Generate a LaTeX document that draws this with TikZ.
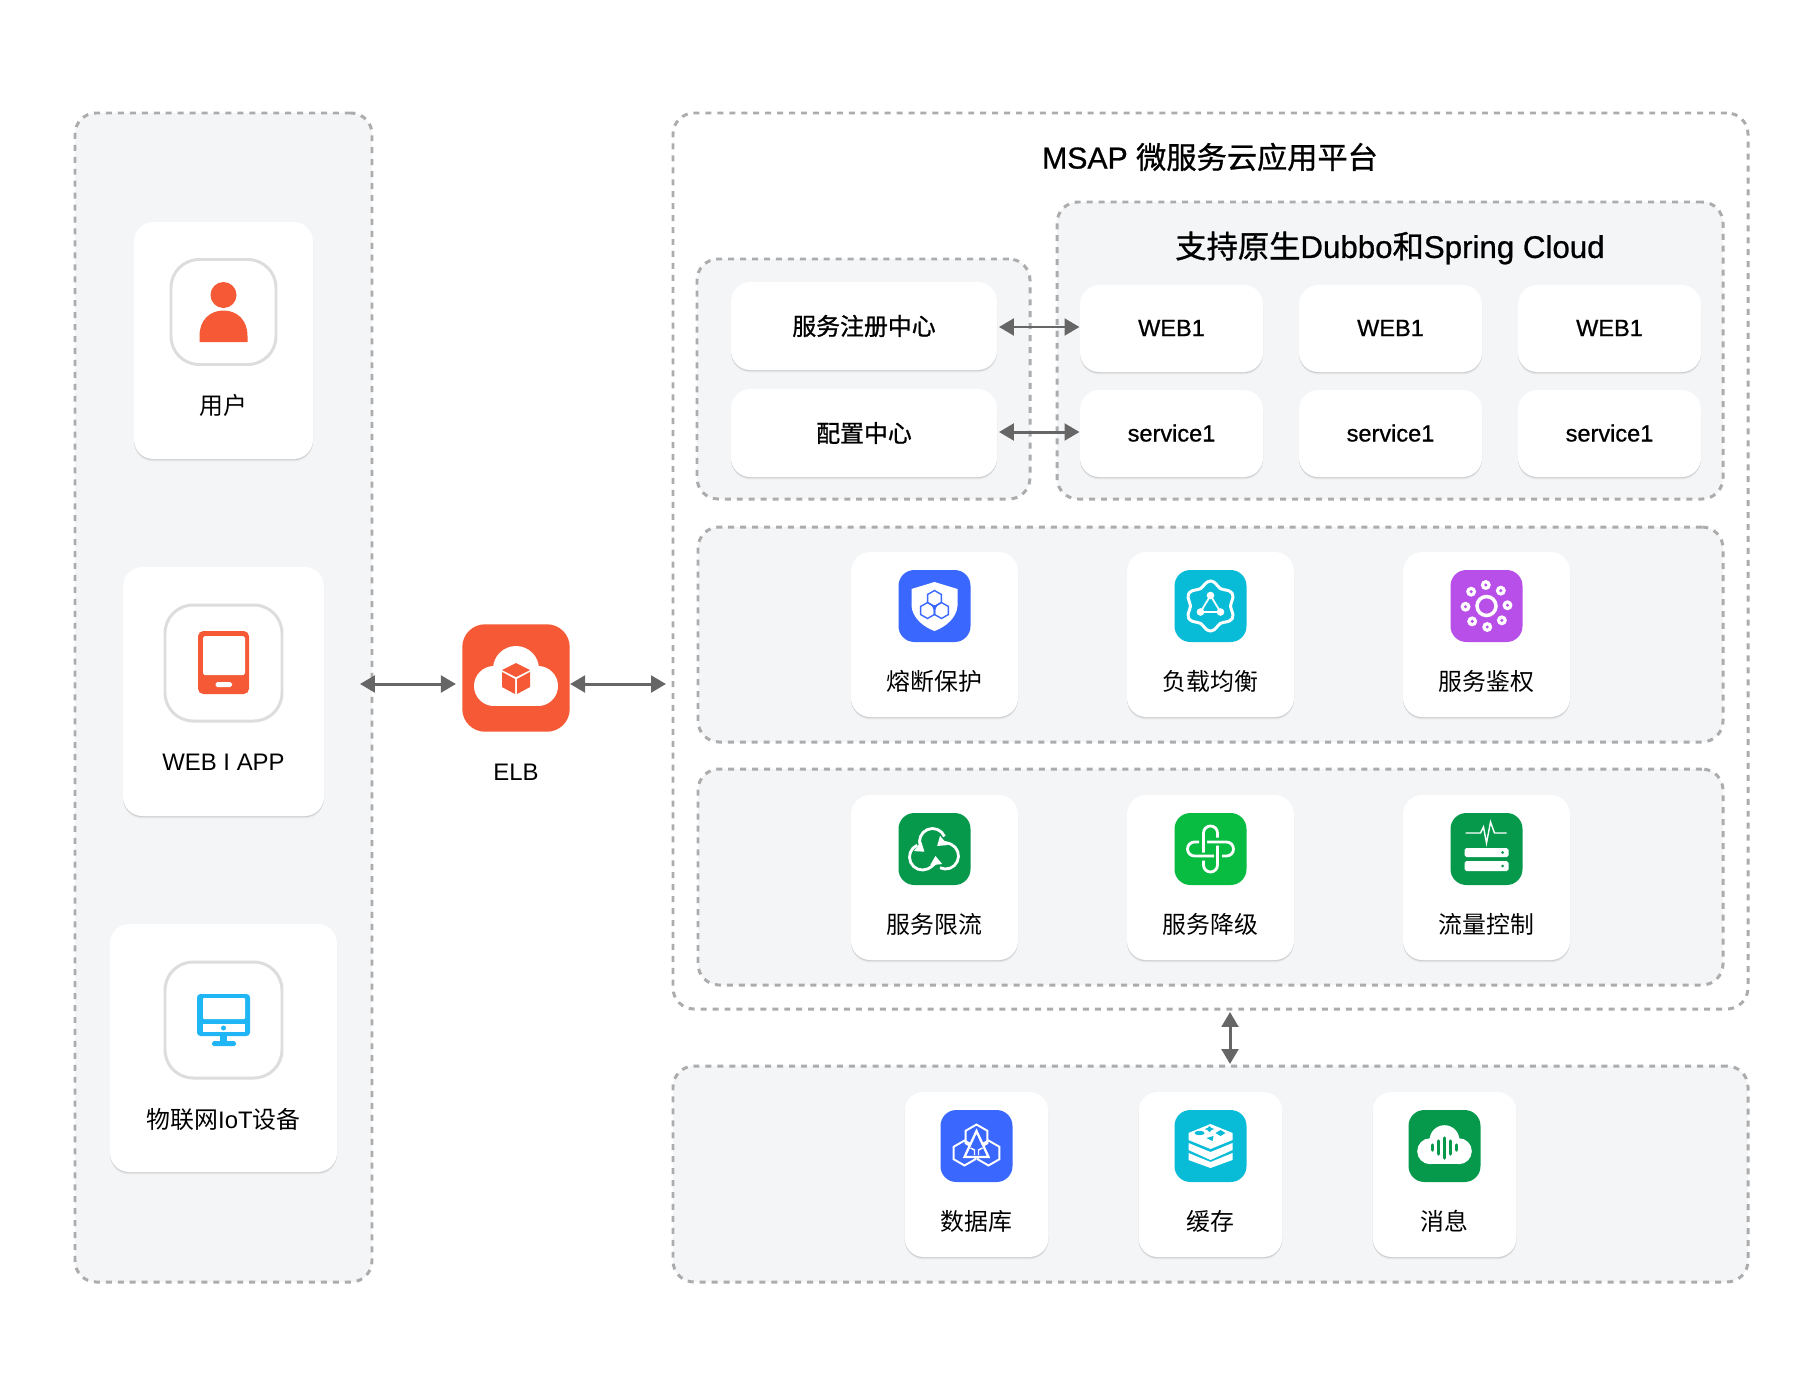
\documentclass[tikz,border=0pt]{standalone}
\usepackage{fontspec}
\setmainfont{Liberation Sans}
\newfontfamily\cjk{Noto Sans CJK SC}
\newfontfamily\cjkm[FakeBold=1]{Noto Sans CJK SC}
\newfontfamily\latm[FakeBold=.8]{Liberation Sans}
\usepackage{xcolor}
\usetikzlibrary{arrows.meta,shadows}
\definecolor{panelgrey}{RGB}{244,245,247}
\definecolor{dashgrey}{RGB}{172,172,172}
\definecolor{framegrey}{RGB}{221,221,221}
\definecolor{arrowgrey}{RGB}{102,102,102}
\definecolor{elborange}{RGB}{245,89,54}
\definecolor{skyblue}{RGB}{32,181,245}
\definecolor{iconblue}{RGB}{58,104,255}
\definecolor{iconcyan}{RGB}{8,188,215}
\definecolor{iconpurple}{RGB}{184,79,232}
\definecolor{icongreen}{RGB}{6,153,76}
\definecolor{iconlime}{RGB}{8,188,65}
\tikzset{
  panel/.style 2 args={draw=dashgrey, line width=1.7pt, dash pattern=on 3.4pt off 3.4pt,
    rounded corners=12pt, minimum width=#1*0.02cm, minimum height=#2*0.02cm, inner sep=0pt, outer sep=0pt},
  card/.style 2 args={fill=white, rounded corners=11pt, minimum width=#1*0.02cm, minimum height=#2*0.02cm,
    inner sep=0pt, outer sep=0pt,
    drop shadow={shadow xshift=0pt, shadow yshift=-0.7pt, opacity=.10, fill=black},
    drop shadow={shadow xshift=0pt, shadow yshift=-1.4pt, opacity=.05, fill=black}},
  frame/.style 2 args={draw=framegrey, fill=white, line width=1.7pt, rounded corners=16pt,
    minimum width=#1*0.02cm, minimum height=#2*0.02cm, inner sep=0pt},
  iconbox/.style={rounded corners=9pt, minimum size=1.44cm, inner sep=0pt},
  label/.style={font=\fontsize{13.6}{16}\selectfont, text=black, inner sep=0pt},
  title/.style={font=\fontsize{17.2}{20}\selectfont, text=black, inner sep=0pt},
  link/.style={{Triangle[length=8.5pt,width=9.5pt]}-{Triangle[length=8.5pt,width=9.5pt]}, draw=arrowgrey, line width=1.7pt},
}
% one hexagon cell, pointy on top
\newcommand{\hexcell}[3]{\draw[shift={(#1,#2)}] (30:#3) -- (90:#3) -- (150:#3) -- (210:#3) -- (270:#3) -- (330:#3) -- cycle;}
% white cloud of the ELB and message icons
\newcommand{\cloudglyph}{
  \fill[white] (-22,-8) circle (20);
  \fill[white] (22,-8) circle (20);
  \fill[white] (0,9) circle (23);
  \fill[white] (-22,-28) rectangle (22,-8);
}
% one arrow of the three round the flow limit icon
\newcommand{\looparc}[5]{\draw[white, line width=1.6pt, -{Triangle[length=5pt,width=6.5pt]}, shift={(#1,#2)}] (#3:#5) arc (#3:#4:#5);}
% text inside the small cards
\newcommand{\cardcjk}[1]{\raisebox{1pt}{\cjkm\fontsize{13.6}{16}\selectfont #1}}
\newcommand{\cardlat}[1]{\raisebox{.6pt}{\latm\fontsize{13.4}{16}\selectfont #1}}

\begin{document}
\begin{tikzpicture}[x=0.02cm, y=0.02cm]
\useasboundingbox (0,0) rectangle (1800,-1380);

% dashed panels
\node[panel={297}{1169}, fill=panelgrey] (clients) at (223.5,-697.5) {};
\node[panel={1075}{896}] (platform) at (1210.5,-561) {};
\node[panel={333}{240}, fill=panelgrey] (registry) at (863.5,-379) {};
\node[panel={666}{297}, fill=panelgrey] (native) at (1390,-350.5) {};
\node[panel={1025}{215}, fill=panelgrey] (guardrow) at (1210.5,-634.5) {};
\node[panel={1025}{216}, fill=panelgrey] (flowrow) at (1210.5,-877) {};
\node[panel={1075}{216}, fill=panelgrey] (storage) at (1210.5,-1174) {};

% titles
\node[title] (platformtitle) at (1210,-157) {\latm MSAP {\cjkm 微服务云应用平台}};
\node[title, font=\fontsize{17.8}{20}\selectfont] (nativetitle) at (1390,-248) {{\cjkm 支持原生}\latm Dubbo{\cjkm 和}Spring Cloud};

% client column
\node[card={179}{237}] (usercard) at (223.5,-340.5) {};
\node[frame={105}{105}] (userframe) at (223.5,-312) {};
\fill[elborange] (223.5,-295) circle (13);
\fill[elborange] (199.5,-342) -- (199.5,-336) .. controls (199.5,-320) and (210,-310.5) .. (223.5,-310.5) .. controls (237,-310.5) and (247.5,-320) .. (247.5,-336) -- (247.5,-342) -- cycle;
\node[label] (userlabel) at (223.5,-405.5) {\cjk 用户};

\node[card={201}{249}] (webcard) at (223.5,-691.5) {};
\node[frame={117}{116}] (webframe) at (223.5,-663) {};
\fill[elborange, rounded corners=3pt] (198,-631) rectangle (249,-694);
\fill[white, rounded corners=1pt] (203,-636) rectangle (245,-675);
\fill[white, rounded corners=1pt] (215.5,-682) rectangle (232,-687);
\node[label] (weblabel) at (223.5,-762.5) {WEB I APP};

\node[card={227}{248}] (iotcard) at (223.5,-1048) {};
\node[frame={117}{116}] (iotframe) at (223.5,-1020) {};
\fill[skyblue, rounded corners=2pt] (197,-994) rectangle (250,-1036);
\fill[white, rounded corners=.5pt] (203,-998) rectangle (245,-1019);
\fill[white] (203,-1024) rectangle (245,-1032);
\fill[skyblue] (223.5,-1028) circle (2.5);
\fill[skyblue] (220,-1036) rectangle (227,-1043);
\fill[skyblue, rounded corners=1pt] (212,-1041) rectangle (236,-1046);
\node[label] (iotlabel) at (223.5,-1119.5) {{\cjk 物联网}IoT{\cjk 设备}};

% ELB
\node[iconbox, fill=elborange, minimum size=2.15cm, rounded corners=13pt] (elb) at (516,-678) {};
\begin{scope}[shift={(516,-678)}]
\cloudglyph
\fill[elborange] (0,15) -- (14,8) -- (0,1) -- (-14,8) -- cycle;
\fill[elborange] (-14,6) -- (-1,-1) -- (-1,-16) -- (-14,-9) -- cycle;
\fill[elborange] (14,6) -- (1,-1) -- (1,-16) -- (14,-9) -- cycle;
\end{scope}
\node[label] (elblabel) at (516,-772) {ELB};

% registry cards
\node[card={266}{88}] (regcard) at (864,-326) {\cardcjk{服务注册中心}};
\node[card={266}{88}] (confcard) at (864,-433) {\cardcjk{配置中心}};

% web and service cards
\node[card={183}{87}] (webone) at (1171.5,-328.5) {\cardlat{WEB1}};
\node[card={183}{87}] (webtwo) at (1390.5,-328.5) {\cardlat{WEB1}};
\node[card={183}{87}] (webthree) at (1609.5,-328.5) {\cardlat{WEB1}};
\node[card={183}{87}] (svcone) at (1171.5,-433.5) {\cardlat{service1}};
\node[card={183}{87}] (svctwo) at (1390.5,-433.5) {\cardlat{service1}};
\node[card={183}{87}] (svcthree) at (1609.5,-433.5) {\cardlat{service1}};

% first row of capabilities
\node[card={167}{165}] (fusecard) at (934.5,-634.5) {};
\node[card={167}{165}] (balancecard) at (1210.5,-634.5) {};
\node[card={167}{165}] (authcard) at (1486.5,-634.5) {};
\node[iconbox, fill=iconblue] (fuseicon) at (934.5,-606) {};
\node[iconbox, fill=iconcyan] (balanceicon) at (1210.5,-606) {};
\node[iconbox, fill=iconpurple] (authicon) at (1486.5,-606) {};
\node[label] (fuselabel) at (934.5,-681.5) {\cjk 熔断保护};
\node[label] (balancelabel) at (1210.5,-681.5) {\cjk 负载均衡};
\node[label] (authlabel) at (1486.5,-681.5) {\cjk 服务鉴权};
% shield
\begin{scope}[shift={(934.5,-606)}]
\fill[white] (0,24) -- (-23,17) -- (-23,0) .. controls (-22,-12) and (-11,-21) .. (0,-25) .. controls (11,-21) and (22,-12) .. (23,0) -- (23,17) -- cycle;
\begin{scope}[draw=iconblue, line width=.8pt]
\hexcell{0}{7.5}{8}
\hexcell{-7}{-4.5}{8}
\hexcell{7}{-4.5}{8}
\end{scope}
\fill[iconblue] (-3,1) -- (3,1) -- (.7,-4) -- (.7,-9) -- (-.7,-9) -- (-.7,-4) -- cycle;
\end{scope}
% gear with triangle
\begin{scope}[shift={(1210.5,-606)}]
\draw[white, line width=1.7pt] plot[smooth cycle, domain=0:350, samples=36] (\x:{22.5+2.5*cos(6*(\x-90))});
\draw[white, line width=1pt] (0,10.5) -- (-10,-6) -- (10,-6) -- cycle;
\fill[white] (0,10.5) circle (3.8);
\fill[white] (-10,-6) circle (3.8);
\fill[white] (10,-6) circle (3.8);
\end{scope}
% ring of small rings
\begin{scope}[shift={(1486.5,-606)}]
\draw[white, line width=2pt] (0,0) circle (9.5);
\foreach \ang in {0,45,...,315} {
  \fill[white] (\ang+2:21) circle (5);
  \fill[iconpurple] (\ang+2:21) circle (1.7);
}
\end{scope}

% second row of capabilities
\node[card={167}{165}] (limitcard) at (934.5,-877.5) {};
\node[card={167}{165}] (degradecard) at (1210.5,-877.5) {};
\node[card={167}{165}] (trafficcard) at (1486.5,-877.5) {};
\node[iconbox, fill=icongreen] (limiticon) at (934.5,-849) {};
\node[iconbox, fill=iconlime] (degradeicon) at (1210.5,-849) {};
\node[iconbox, fill=icongreen] (trafficicon) at (1486.5,-849) {};
\node[label] (limitlabel) at (934.5,-924.5) {\cjk 服务限流};
\node[label] (degradelabel) at (1210.5,-924.5) {\cjk 服务降级};
\node[label] (trafficlabel) at (1486.5,-924.5) {\cjk 流量控制};
% three arrows
\begin{scope}[shift={(934.5,-849)}]
\looparc{-2}{7.5}{23}{232}{13}
\looparc{11}{-7}{245}{490}{13}
\looparc{-12}{-8}{114}{365}{13}
\end{scope}
% linked loops
\begin{scope}[shift={(1210.5,-849)}]
\foreach \ang in {0,90,180,270} {
  \draw[white, line width=1.6pt, rotate=\ang] (7,11.5) -- (7,16) arc (0:180:7) -- (-7,-3.5);
}
\end{scope}
% pulse over two server bars
\begin{scope}[shift={(1486.5,-849)}]
\draw[white, line width=.8pt] (-21,16) -- (-6,16) -- (-3,22) -- (0,6) -- (4,27) -- (8,16) -- (20,16);
\fill[white, rounded corners=1pt] (-22,1) rectangle (22,-8);
\fill[white, rounded corners=1pt] (-22,-12) rectangle (22,-22);
\fill[icongreen] (16,-3.5) circle (1.5);
\fill[icongreen] (16,-17) circle (1.5);
\end{scope}

% storage row
\node[card={144}{165}] (dbcard) at (976.5,-1174.5) {};
\node[card={144}{165}] (cachecard) at (1210.5,-1174.5) {};
\node[card={144}{165}] (mqcard) at (1444.5,-1174.5) {};
\node[iconbox, fill=iconblue] (dbicon) at (976.5,-1146) {};
\node[iconbox, fill=iconcyan] (cacheicon) at (1210.5,-1146) {};
\node[iconbox, fill=icongreen] (mqicon) at (1444.5,-1146) {};
\node[label] (dblabel) at (976.5,-1221.5) {\cjk 数据库};
\node[label] (cachelabel) at (1210.5,-1221.5) {\cjk 缓存};
\node[label] (mqlabel) at (1444.5,-1221.5) {\cjk 消息};
% hexagons with triangle
\begin{scope}[shift={(976.5,-1146)}]
\begin{scope}[draw=white, line width=1.1pt]
\hexcell{0}{9}{12.5}
\hexcell{-12}{-7}{12.5}
\hexcell{12}{-7}{12.5}
\end{scope}
\fill[iconblue] (0,15) -- (-12,-11) -- (12,-11) -- cycle;
\draw[white, line width=1.3pt] (0,15) -- (-12,-11) -- (12,-11) -- cycle;
\draw[white, line width=.8pt] (-6,-2) -- (-2,-4) -- (-2,-9) (6,-2) -- (2,-4) -- (2,-9);
\end{scope}
% layered stack
\begin{scope}[shift={(1210.5,-1146)}]
\fill[white] (0,22) -- (22,13) -- (22,6) -- (0,-3) -- (-22,6) -- (-22,13) -- cycle;
\fill[white] (-22,3) -- (0,-6) -- (22,3) -- (22,-4) -- (0,-14) -- (-22,-4) -- cycle;
\fill[white] (-22,-7) -- (0,-16) -- (22,-7) -- (22,-14) -- (0,-22) -- (-22,-14) -- cycle;
\fill[iconcyan] (-11,13) ellipse (5 and 2.2);
\fill[iconcyan] (10,16) -- (15,13) -- (10,10) -- (5,13) -- cycle;
\fill[iconcyan] (-1,20) -- (1,18) -- (4,17) -- (1,16) -- (-1,14) -- (-3,16) -- (-6,17) -- (-3,18) -- cycle;
\fill[iconcyan] (3,10) -- (-4,8) -- (2,5) -- cycle;
\end{scope}
% message cloud with sound bars
\begin{scope}[shift={(1444.5,-1146)}]
\begin{scope}[scale=.65]
\cloudglyph
\end{scope}
\begin{scope}[draw=icongreen, line width=2pt, line cap=round]
\draw (-12,1) -- (-12,-4);
\draw (-6,5) -- (-6,-8);
\draw (0,8) -- (0,-12);
\draw (6,5) -- (6,-8);
\draw (12,1) -- (12,-4);
\end{scope}
\end{scope}

% arrows
\coordinate (elbport) at (516,-684);
\coordinate (regport) at (1040,-327);
\coordinate (confport) at (1040,-432);
\coordinate (stackport) at (1230,-1036);
\draw[link, shorten <=-12*0.02cm, shorten >=6*0.02cm] (clients.east |- elbport) -- (elb.west |- elbport);
\draw[link, shorten >=7*0.02cm] (elb.east |- elbport) -- (platform.west |- elbport);
\draw[link, shorten <=2*0.02cm, shorten >=0.5*0.02cm] (regcard.east |- regport) -- (webone.west |- regport);
\draw[link, shorten <=2*0.02cm, shorten >=0.5*0.02cm] (confcard.east |- confport) -- (svcone.west |- confport);
\draw[link, shorten <=3*0.02cm, shorten >=2*0.02cm] (platform.south -| stackport) -- (storage.north -| stackport);
\end{tikzpicture}
\end{document}
